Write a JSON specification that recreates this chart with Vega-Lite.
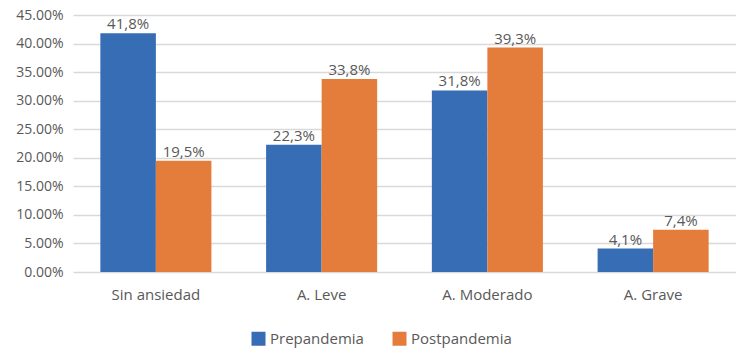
{
  "$schema": "https://vega.github.io/schema/vega-lite/v6.json",
  "width": 663,
  "height": 257,
  "padding": {"left": 73, "top": 15, "right": 0, "bottom": 78},
  "autosize": {"type": "none"},
  "background": "white",
  "data": {
    "values": [
      {"categoria": "Sin ansiedad", "periodo": "Prepandemia", "valor": 0.418},
      {"categoria": "Sin ansiedad", "periodo": "Postpandemia", "valor": 0.195},
      {"categoria": "A. Leve", "periodo": "Prepandemia", "valor": 0.223},
      {"categoria": "A. Leve", "periodo": "Postpandemia", "valor": 0.338},
      {"categoria": "A. Moderado", "periodo": "Prepandemia", "valor": 0.318},
      {"categoria": "A. Moderado", "periodo": "Postpandemia", "valor": 0.393},
      {"categoria": "A. Grave", "periodo": "Prepandemia", "valor": 0.041},
      {"categoria": "A. Grave", "periodo": "Postpandemia", "valor": 0.074}
    ]
  },
  "transform": [
    {"calculate": "replace(format(datum.valor * 100, '.1f'), '.', ',') + '%'", "as": "etiqueta"}
  ],
  "encoding": {
    "x": {
      "field": "categoria",
      "type": "nominal",
      "sort": ["Sin ansiedad", "A. Leve", "A. Moderado", "A. Grave"],
      "scale": {"paddingInner": 0.33, "paddingOuter": 0.165},
      "axis": {
        "title": null,
        "labelAngle": 0,
        "ticks": false,
        "domain": false,
        "labelFont": "Open Sans",
        "labelFontSize": 15,
        "labelColor": "#595959",
        "labelPadding": 15
      }
    },
    "xOffset": {
      "field": "periodo",
      "type": "nominal",
      "sort": ["Prepandemia", "Postpandemia"],
      "scale": {"paddingInner": 0, "paddingOuter": 0}
    },
    "y": {
      "field": "valor",
      "type": "quantitative",
      "scale": {"domain": [0, 0.45], "nice": false},
      "axis": {
        "title": null,
        "format": ".2%",
        "values": [0, 0.05, 0.1, 0.15, 0.2, 0.25, 0.3, 0.35, 0.4, 0.45],
        "ticks": false,
        "domain": false,
        "gridColor": "#d9d9d9",
        "gridWidth": 1.5,
        "labelFont": "Open Sans",
        "labelFontSize": 14,
        "labelColor": "#595959",
        "labelPadding": 10
      }
    }
  },
  "layer": [
    {
      "mark": {"type": "bar"},
      "encoding": {
        "color": {
          "field": "periodo",
          "type": "nominal",
          "sort": ["Prepandemia", "Postpandemia"],
          "scale": {"domain": ["Prepandemia", "Postpandemia"], "range": ["#376db5", "#e47d3c"]},
          "legend": {
            "title": null,
            "orient": "none",
            "legendX": 178,
            "legendY": 316,
            "direction": "horizontal",
            "symbolType": "square",
            "symbolSize": 196,
            "symbolStrokeWidth": 0,
            "symbolOpacity": 1,
            "labelFont": "Open Sans",
            "labelFontSize": 15,
            "labelColor": "#595959",
            "labelOffset": 4,
            "columnPadding": 28
          }
        }
      }
    },
    {
      "mark": {"type": "text", "dy": -9, "font": "Open Sans", "fontSize": 15, "color": "#595959"},
      "encoding": {
        "text": {"field": "etiqueta"}
      }
    }
  ],
  "config": {"view": {"stroke": null}}
}
